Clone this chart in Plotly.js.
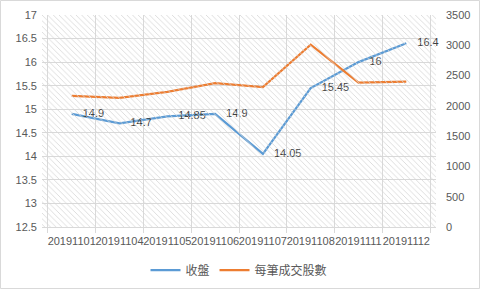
<!DOCTYPE html>
<html>
<head>
<meta charset="utf-8">
<script src="https://cdn.plot.ly/plotly-3.0.1.min.js"></script>
<style>html,body{margin:0;padding:0;background:#fff;}#chart{width:481px;height:289px;}</style>
</head>
<body>
<div id="chart"></div>
<script>
const dates = ['20191101','20191104','20191105','20191106','20191107','20191108','20191111','20191112'];
const closePrice = [14.9, 14.7, 14.85, 14.9, 14.05, 15.45, 16, 16.4];
const sharesPerTrade = [2165, 2130, 2230, 2375, 2310, 3010, 2385, 2400];
const closeName = '收盤';
const sharesName = '每筆成交股數';

const textColor = '#595959';
const gridColor = '#D9D9D9';
const baseFont = {family: 'Liberation Sans, Arial, sans-serif', size: 11, color: textColor};

const traces = [
  {
    type: 'bar', x: [0.5], y: [1], width: [1],
    xaxis: 'x2', yaxis: 'y3', showlegend: false, hoverinfo: 'skip',
    marker: {color: 'rgba(0,0,0,0)', line: {width: 0},
      pattern: {shape: '\\', size: 4, solidity: 0.2, fgcolor: '#D6D6D6', fgopacity: 1}}
  },
  {
    type: 'scatter', mode: 'lines', name: sharesName, x: dates, y: sharesPerTrade,
    yaxis: 'y2', line: {color: '#ED7D31', width: 2.25}
  },
  {
    type: 'scatter', mode: 'lines+markers+text', name: closeName, x: dates, y: closePrice,
    text: closePrice.map(String), textposition: 'middle right', cliponaxis: false,
    textfont: {family: 'Liberation Sans, Arial, sans-serif', size: 11, color: '#404040'},
    marker: {size: 16, color: 'rgba(0,0,0,0)'},
    line: {color: '#5B9BD5', width: 2.25}
  }
];

const layout = {
  width: 481, height: 289,
  margin: {l: 42, r: 45, t: 15, b: 62, autoexpand: false},
  paper_bgcolor: '#fff', plot_bgcolor: '#fff',
  font: baseFont,
  showlegend: true,
  legend: {orientation: 'h', x: 0.5, xanchor: 'center', y: -0.135, yanchor: 'top',
    traceorder: 'reversed',
    font: {family: 'Noto Sans CJK TC, sans-serif', size: 12, color: textColor}},
  xaxis: {type: 'category', tickson: 'boundaries', showgrid: true, gridcolor: gridColor,
    ticks: 'outside', ticklen: 5, tickcolor: gridColor, tickangle: 0, ticklabelstandoff: 4,
    showline: true, linecolor: gridColor, tickfont: baseFont, zeroline: false},
  yaxis: {range: [12.5, 17], dtick: 0.5, showgrid: true, gridcolor: gridColor,
    zeroline: false, tickfont: baseFont, ticklabelstandoff: 4},
  yaxis2: {range: [0, 3500], dtick: 500, overlaying: 'y', side: 'right',
    showgrid: false, zeroline: false, tickfont: baseFont, ticklabelstandoff: 9},
  xaxis2: {range: [0, 1], overlaying: 'x', visible: false},
  yaxis3: {range: [0, 1], overlaying: 'y', visible: false},
  shapes: [{type: 'rect', xref: 'paper', yref: 'paper',
    x0: -41.5/394, x1: 1 + 43.5/394, y0: -61.5/212, y1: 1 + 14.5/212,
    line: {color: gridColor, width: 1}, fillcolor: 'rgba(0,0,0,0)'}]
};

Plotly.newPlot('chart', traces, layout, {staticPlot: true, displayModeBar: false});
</script>
</body>
</html>
